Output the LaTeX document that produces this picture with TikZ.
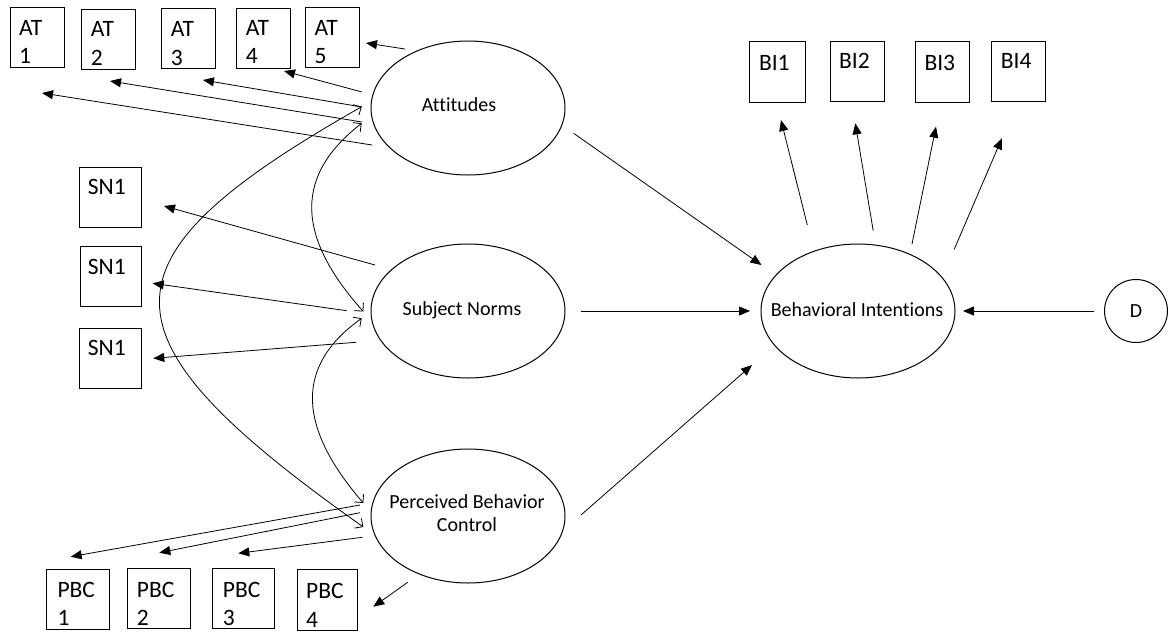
\documentclass[tikz,border=0pt]{standalone}
\usepackage{fontspec}
\setmainfont{Carlito}[Ligatures={NoCommon}]
\usetikzlibrary{shapes.geometric,arrows.meta}
\begin{document}
\begin{tikzpicture}[x=1pt,y=-1pt,
  box/.style={draw, line width=0.9pt, inner sep=0pt, minimum width=54pt, minimum height=60pt},
  btxt/.style={anchor=north west, inner sep=0pt, align=left, font=\fontsize{23.5}{28.3}\selectfont},
  ell/.style={draw, ellipse, line width=1pt, minimum width=194pt, minimum height=134pt, inner sep=0pt},
  etxt/.style={inner sep=0pt, align=center, font=\fontsize{20}{23.3}\selectfont},
  arr/.style={line width=0.8pt, -{Triangle[length=11pt,width=9pt]}},
  dbl/.style={line width=0.8pt, {Straight Barb[length=6pt,width=12pt]}-{Straight Barb[length=6pt,width=12pt]}},
]
\useasboundingbox (0,0) rectangle (1168,633);

% ---------- AT boxes ----------
\node[box] (at1) at (37.5,37) {};
\node[box] (at2) at (108.9,39.2) {};
\node[box] (at3) at (188.9,38.8) {};
\node[box] (at4) at (263.4,38.2) {};
\node[box] (at5) at (332.9,37.5) {};
\node[btxt] (at1t) at (19,20) {AT\\1};
\node[btxt] (at2t) at (90.7,21.5) {AT\\2};
\node[btxt] (at3t) at (170.7,21.5) {AT\\3};
\node[btxt] (at4t) at (245.7,20) {AT\\4};
\node[btxt] (at5t) at (314.3,20) {AT\\5};

% ---------- SN boxes ----------
\node[box, minimum width=62pt] (sna) at (110,197) {};
\node[box, minimum width=61pt] (snb) at (110.5,276.7) {};
\node[box, minimum width=62pt] (snc) at (110,358.3) {};
\node[btxt] (snat) at (87.7,179.3) {SN1};
\node[btxt] (snbt) at (87.7,258.8) {SN1};
\node[btxt] (snct) at (87.7,340.5) {SN1};

% ---------- PBC boxes ----------
\node[box, minimum width=62.3pt] (pb1) at (77.9,599.3) {};
\node[box, minimum width=62.3pt] (pb2) at (158.9,598.3) {};
\node[box, minimum width=61.6pt] (pb3) at (243.5,598) {};
\node[box, minimum width=60.4pt, minimum height=61.4pt] (pb4) at (327.5,600) {};
\node[btxt] (pb1t) at (57.3,581.7) {PBC\\1};
\node[btxt] (pb2t) at (136.7,581.7) {PBC\\2};
\node[btxt] (pb3t) at (222.7,581.7) {PBC\\3};
\node[btxt] (pb4t) at (306,583.3) {PBC\\4};

% ---------- BI boxes ----------
\node[box, minimum width=56pt, minimum height=60.6pt] (bi1) at (777,72) {};
\node[box, minimum width=54.8pt, minimum height=59.3pt] (bi2) at (857.4,71.4) {};
\node[box, minimum width=53.6pt, minimum height=60.6pt] (bi3) at (942.2,72) {};
\node[box, minimum width=54.3pt, minimum height=59.3pt] (bi4) at (1018.6,71.4) {};
\node[btxt] (bi1t) at (758.8,55) {BI1};
\node[btxt] (bi2t) at (839,53) {BI2};
\node[btxt] (bi3t) at (924.3,55) {BI3};
\node[btxt] (bi4t) at (1000.7,53.3) {BI4};

% ---------- latent ellipses ----------
\node[ell] (att) at (468,108) {};
\node[ell] (sn) at (468,311) {};
\node[ell] (pbc) at (468,516) {};
\node[ell] (bi) at (858,311) {};
\node[etxt] (attt) at (459,105) {Attitudes};
\node[etxt] (snt) at (462,310) {Subject Norms};
\node[etxt] (pbct) at (467,513) {Perceived Behavior\\Control};
\node[etxt] (bit) at (857,310) {Behavioral Intentions};
\node[draw, circle, line width=1pt, minimum size=63pt, inner sep=0pt, font=\fontsize{20}{23}\selectfont] (d) at (1136,311) {D};

% ---------- connector end points ----------
\coordinate (a5s) at (405,49);    \coordinate (a5e) at (366,43);
\coordinate (a4s) at (362,92);    \coordinate (a4e) at (284,71);
\coordinate (a3s) at (362,107);   \coordinate (a3e) at (203,80);
\coordinate (a2s) at (362,122);   \coordinate (a2e) at (110,81);
\coordinate (a1s) at (372,145);   \coordinate (a1e) at (42,93);
\coordinate (s1s) at (375,265);   \coordinate (s1e) at (164,206);
\coordinate (s2s) at (346.7,310.7); \coordinate (s2e) at (152.7,283.3);
\coordinate (s3s) at (356,342.3); \coordinate (s3e) at (153.3,358.3);
\coordinate (p1s) at (360,505);   \coordinate (p1e) at (70.7,556.7);
\coordinate (p2s) at (360,512.7); \coordinate (p2e) at (159.3,552.7);
\coordinate (p3s) at (362.3,537.3); \coordinate (p3e) at (238.3,553.3);
\coordinate (p4s) at (407.7,582.3); \coordinate (p4e) at (373.3,606.7);
\coordinate (b1s) at (807.3,225); \coordinate (b1e) at (781,120);
\coordinate (b2s) at (873.2,230.7); \coordinate (b2e) at (855.3,123.3);
\coordinate (b3s) at (912,244);   \coordinate (b3e) at (936,126.7);
\coordinate (b4s) at (954.2,249.3); \coordinate (b4e) at (1001.9,138.3);
\coordinate (attbs) at (573.6,133.3); \coordinate (attbe) at (761.5,265);
\coordinate (snbs) at (581,311);  \coordinate (snbe) at (750,311);
\coordinate (pbcbs) at (581,515); \coordinate (pbcbe) at (752,365);
\coordinate (dbs) at (1094,311);  \coordinate (dbe) at (963,311);
\coordinate (cas) at (361.7,123.3); \coordinate (cse) at (363.3,311.5);
\coordinate (css) at (361.7,318.3); \coordinate (cpe) at (363.3,503);
\coordinate (cat) at (361.7,106.7); \coordinate (cpb) at (363.3,527);

% ---------- loadings and paths ----------
\foreach \s/\e in {a5s/a5e,a4s/a4e,a3s/a3e,a2s/a2e,a1s/a1e,
                   s1s/s1e,s2s/s2e,s3s/s3e,
                   p1s/p1e,p2s/p2e,p3s/p3e,p4s/p4e,
                   b1s/b1e,b2s/b2e,b3s/b3e,b4s/b4e,
                   attbs/attbe,snbs/snbe,pbcbs/pbcbe,dbs/dbe}
  \draw[arr] (\s) -- (\e);

% ---------- correlations ----------
\draw[dbl] (cas) .. controls (295,175) and (295,235) .. (cse);
\draw[dbl] (css) .. controls (296,365) and (296,425) .. (cpe);
\draw[dbl] (cat) .. controls (92,260) and (92,335) .. (cpb);
\end{tikzpicture}
\end{document}
